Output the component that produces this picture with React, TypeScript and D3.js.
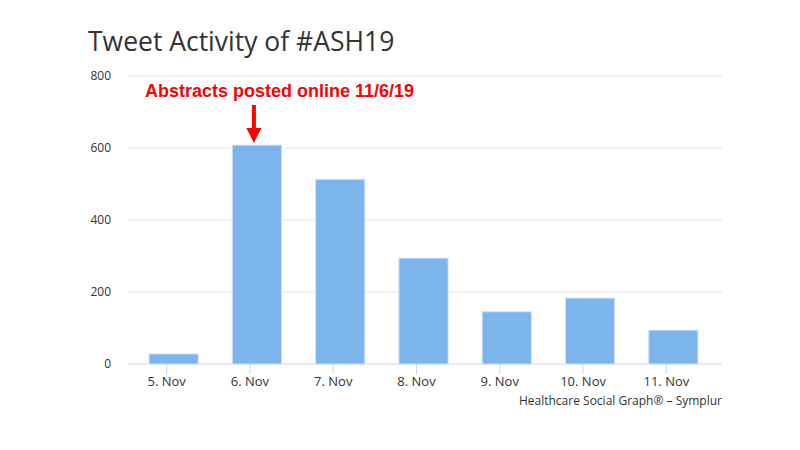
import React from "react";
import * as d3 from "d3";

const categories = ["5. Nov", "6. Nov", "7. Nov", "8. Nov", "9. Nov", "10. Nov", "11. Nov"];
const tweets = [28, 608, 513, 294, 145, 183, 94];
const yTicks = [0, 200, 400, 600, 800];

const W = 800;
const H = 450;
const plotLeft = 125;
const plotRight = 708;
const gridLeft = 128;
const gridRight = 722;
const plotTop = 76;
const plotBottom = 364;
const barShift = 7;

export default function App() {
  const x = d3.scaleBand<string>().domain(categories).range([plotLeft, plotRight]).paddingInner(0.41).paddingOuter(0.205);
  const xc = d3.scaleBand<string>().domain(categories).range([plotLeft, plotRight]);
  const y = d3.scaleLinear().domain([0, 800]).range([plotBottom, plotTop]);
  const font = "'Open Sans', 'DejaVu Sans', sans-serif";
  const arrowX = xc("6. Nov")! + xc.bandwidth() / 2 + 4;
  return (
    <svg width={W} height={H} style={{ position: "absolute", left: 0, top: 0, background: "#fff" }}>
      <rect x={0} y={0} width={W} height={H} fill="#fff" />
      <text x={88} y={51} fontFamily={font} fontSize={26.5} fill="#333">Tweet Activity of #ASH19</text>
      {yTicks.map((t) => (
        <g key={t}>
          <line x1={gridLeft} x2={gridRight} y1={y(t)} y2={y(t)} stroke={t === 0 ? "#ccd6eb" : "#e6e6e6"} strokeWidth={1} />
          <text x={111} y={y(t) + 4} textAnchor="end" fontFamily={font} fontSize={12} fill="#333">{t}</text>
        </g>
      ))}
      {categories.map((c, i) => (
        <rect key={c} x={x(c)! + barShift} y={y(tweets[i])} width={x.bandwidth()} height={y(0) - y(tweets[i])} fill="#7cb5ec" stroke="#cde2f7" strokeWidth={1} />
      ))}
      {categories.map((c) => {
        const cx = xc(c)! + xc.bandwidth() / 2;
        return (
          <g key={c}>
            <line x1={cx} x2={cx} y1={plotBottom} y2={plotBottom + 10} stroke="#ccd6eb" />
            <text x={cx} y={386} textAnchor="middle" fontFamily={font} fontSize={13} fill="#333">{c}</text>
          </g>
        );
      })}
      <text x={722} y={405} textAnchor="end" fontFamily={font} fontSize={12} fill="#333">Healthcare Social Graph® – Symplur</text>
      <text x={145} y={97} fontFamily="'Liberation Sans', Arial, sans-serif" fontWeight="bold" fontSize={18} fill="#ff0000">Abstracts posted online 11/6/19</text>
      <line x1={arrowX} x2={arrowX} y1={105} y2={130} stroke="#ff0000" strokeWidth={4} />
      <path d={`M${arrowX - 7.5},128 L${arrowX + 7.5},128 L${arrowX},143 Z`} fill="#ff0000" />
    </svg>
  );
}
